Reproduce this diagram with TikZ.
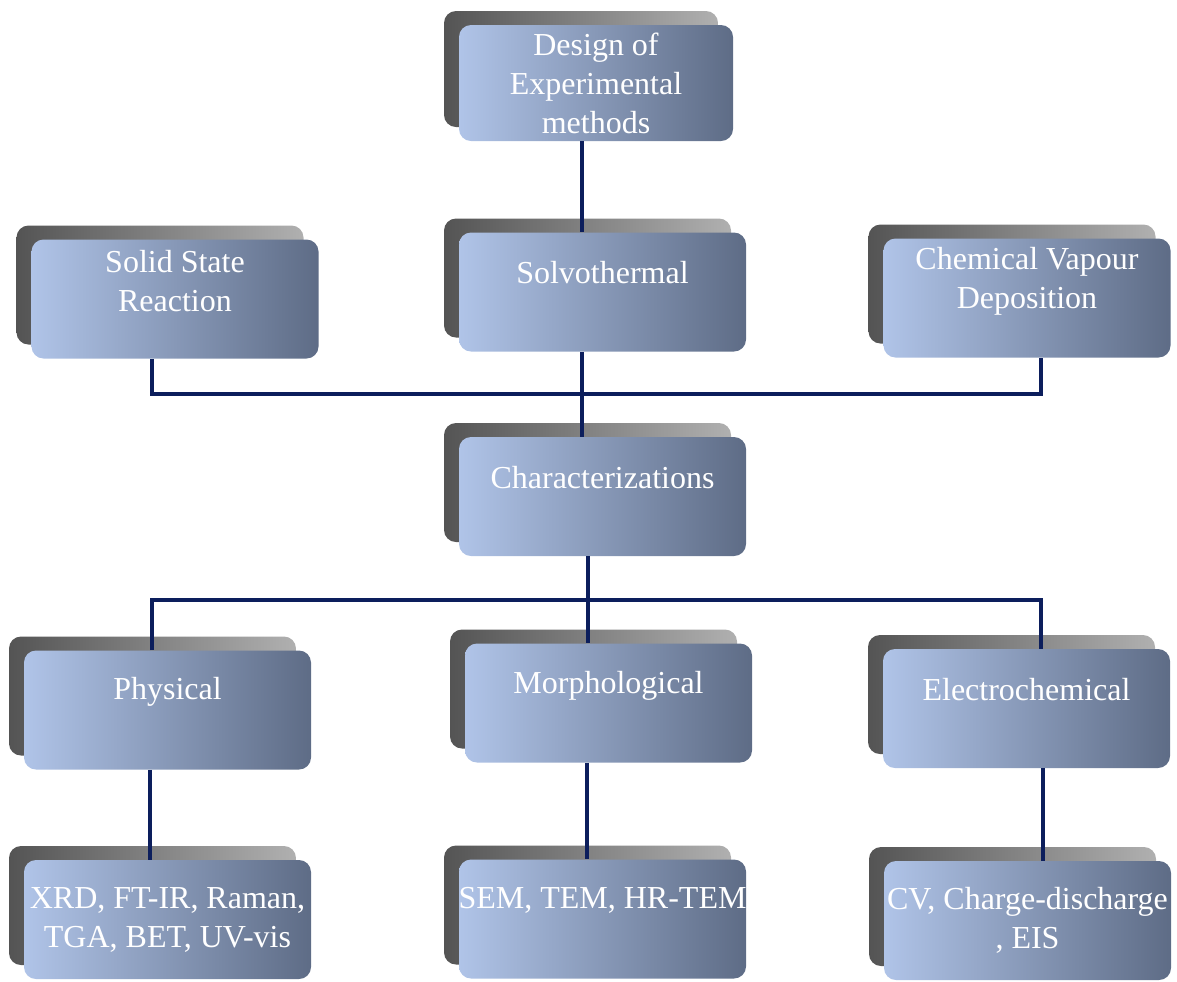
\documentclass[tikz,border=0pt]{standalone}
\usepackage{fontspec}
\setmainfont{Liberation Serif}
\usepackage{tikz}
\usetikzlibrary{shadows}
\definecolor{boxL}{RGB}{176,196,232}
\definecolor{boxR}{RGB}{94,108,134}
\definecolor{shL}{RGB}{84,84,84}
\definecolor{shR}{RGB}{176,176,176}
\definecolor{navy}{RGB}{12,30,92}
\tikzstyle{stepbox}=[rounded corners=6pt,minimum width=143.5pt,minimum height=59.5pt,inner sep=0pt,
  left color=boxL,right color=boxR,
  general shadow={shadow xshift=-7.5pt,shadow yshift=7pt,left color=shL,right color=shR}]
\tikzstyle{lbl}=[text=white,align=center,inner sep=0pt,font=\fontsize{16}{19.5}\selectfont]
\tikzstyle{link}=[draw=navy,line width=2pt]

\begin{document}
\begin{tikzpicture}[x=0.5pt,y=-0.5pt]
      \useasboundingbox (0,0) rectangle (1177,981);
      \node[stepbox,minimum width=137pt,minimum height=58pt] at (596,83) (design) {};
      \node[stepbox] at (175,299) (solid) {};
      \node[stepbox] at (602.5,292) (solvo) {};
      \node[stepbox] at (1027,298) (cvd) {};
      \node[stepbox] at (602.5,496.5) (charac) {};
      \node[stepbox] at (167.5,710) (phys) {};
      \node[stepbox] at (608.5,703) (morph) {};
      \node[stepbox] at (1026.5,708.5) (electro) {};
      \node[stepbox] at (167.5,919.5) (xrd) {};
      \node[stepbox] at (602.5,919) (sem) {};
      \node[stepbox] at (1027.5,920.5) (cv) {};
      % labels
      \node[lbl] at ([yshift=-29.5pt]design.north) (designT) {Design of\\Experimental\\methods};
      \node[lbl] at ([yshift=-21pt]solid.north) (solidT) {Solid State\\Reaction};
      \node[lbl] at ([yshift=-20pt]solvo.north) (solvoT) {Solvothermal};
      \node[lbl] at ([yshift=-21.5pt]cvd.north) (cvdT) {Chemical Vapour\\Deposition};
      \node[lbl] at ([yshift=-20.5pt]charac.north) (characT) {Characterizations};
      \node[lbl] at ([yshift=-21pt]phys.north) (physT) {Physical};
      \node[lbl] at ([yshift=-21.5pt]morph.north) (morphT) {Morphological};
      \node[lbl] at ([yshift=-20.5pt]electro.north) (electroT) {Electrochemical};
      \node[lbl] at ([yshift=-30pt]xrd.north) (xrdT) {XRD, FT-IR, Raman,\\TGA, BET, UV-vis};
      \node[lbl] at ([yshift=-20.5pt]sem.north) (semT) {SEM, TEM, HR-TEM};
      \node[lbl] at ([yshift=-30pt]cv.north) (cvT) {CV, Charge-discharge\\, EIS};
      % connectors
      \coordinate (top) at (582,394);
      \coordinate (busL) at (152,394);
      \coordinate (busR) at (1041,394);
      \coordinate (mid) at (588,600);
      \coordinate (lowL) at (152,600);
      \coordinate (lowR) at (1041,600);
      \coordinate (dropL) at (150,0);
      \coordinate (dropM) at (587,0);
      \coordinate (dropR) at (1043,0);
      \draw[link] (design.south -| top) -- (solvo.north -| top);
      \draw[link] (solvo.south -| top) -- (charac.north -| top);
      \draw[link] (solid.south -| busL) -- (busL) -- (busR) -- (cvd.south -| busR);
      \draw[link] (charac.south -| mid) -- (morph.north -| mid);
      \draw[link] (phys.north -| lowL) -- (lowL) -- (lowR) -- (electro.north -| lowR);
      \draw[link] (phys.south -| dropL) -- (xrd.north -| dropL);
      \draw[link] (morph.south -| dropM) -- (sem.north -| dropM);
      \draw[link] (electro.south -| dropR) -- (cv.north -| dropR);
    \end{tikzpicture}
\end{document}
